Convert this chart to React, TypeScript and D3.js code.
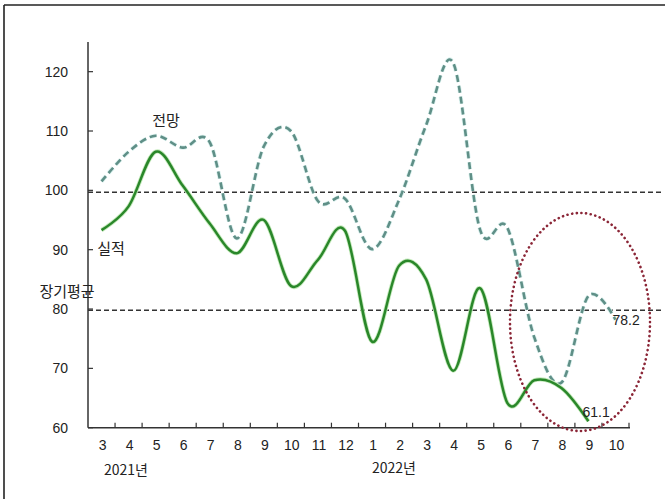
import React from "react";
import * as d3 from "d3";

// Month labels along the x axis (2021/3 .. 2022/10)
const months = ["3", "4", "5", "6", "7", "8", "9", "10", "11", "12", "1", "2", "3", "4", "5", "6", "7", "8", "9", "10"];
// Actual index (실적), through 2022/9
const actual = [93.3, 97.3, 106.5, 100.8, 94.4, 89.4, 95.0, 83.9, 88.3, 93.2, 74.5, 87.3, 85.0, 69.6, 83.5, 64.2, 68.0, 66.7, 61.1];
// Outlook index (전망), through 2022/10
const outlook = [101.5, 106.5, 109.2, 107.2, 108.1, 91.9, 107.4, 110.0, 98.2, 98.6, 90.1, 98.4, 111.0, 121.5, 93.3, 93.7, 75.2, 67.6, 82.2, 78.2];
// Reference levels
const baseLine = 99.7;
const longTermAvg = 79.8;
const yTicks = [60, 70, 80, 90, 100, 110, 120];

const W = 665;
const H = 499;
const left = 88;
const right = 629;
const top = 42;
const bottom = 427.7;

const numFont = "'Liberation Sans', Arial, sans-serif";
const krFont = "'Noto Sans CJK KR', 'Noto Sans', sans-serif";

export default function App() {
  const x = d3.scaleBand<number>().domain(d3.range(months.length)).range([left, right]).padding(0);
  const y = d3.scaleLinear().domain([60, 125]).range([bottom, top]);
  const cx = (i: number) => (x(i) as number) + x.bandwidth() / 2;

  const line = d3
    .line<number>()
    .x((_, i) => cx(i))
    .y((d) => y(d))
    .curve(d3.curveCatmullRom.alpha(0));

  const actualPath = line(actual) || "";
  const outlookPath = line(outlook) || "";

  const boundaries = d3.range(1, months.length + 1).map((i) => left + i * x.bandwidth());

  const lastA = actual.length - 1;
  const lastO = outlook.length - 1;

  return (
    <svg width={W} height={H} style={{ position: "absolute", left: 0, top: 0, background: "#fff" }}>
      {/* frame */}
      <line x1={4} y1={5} x2={W} y2={5} stroke="#222" strokeWidth={1.6} />
      <line x1={4} y1={5} x2={4} y2={H} stroke="#222" strokeWidth={1.6} />

      {/* reference dashed lines */}
      <line x1={left} x2={661} y1={y(baseLine)} y2={y(baseLine)} stroke="#333" strokeWidth={1.5} strokeDasharray="5 3" />
      <line x1={left} x2={663} y1={y(longTermAvg)} y2={y(longTermAvg)} stroke="#333" strokeWidth={1.5} strokeDasharray="5 3" />

      {/* axes */}
      <line x1={left} x2={left} y1={top} y2={bottom} stroke="#333" strokeWidth={1.5} />
      <line x1={left} x2={right + 1} y1={bottom} y2={bottom} stroke="#333" strokeWidth={1.5} />
      {yTicks.map((t) => (
        <g key={t}>
          <line x1={left} x2={left + 5} y1={y(t)} y2={y(t)} stroke="#333" strokeWidth={1.2} />
          <text x={68} y={y(t)} dy="0.35em" textAnchor="end" fontFamily={numFont} fontSize={14} fill="#222">
            {t}
          </text>
        </g>
      ))}
      {boundaries.map((bx, i) => (
        <line key={i} x1={bx} x2={bx} y1={bottom} y2={bottom - 5} stroke="#333" strokeWidth={1.2} />
      ))}
      {months.map((m, i) => (
        <text key={i} x={cx(i) + 1} y={445} dy="0.35em" textAnchor="middle" fontFamily={numFont} fontSize={14} fill="#222">
          {m}
        </text>
      ))}
      <text x={126} y={470} dy="0.35em" textAnchor="middle" fontFamily={krFont} fontSize={14} fill="#222">
        2021년
      </text>
      <text x={394} y={468} dy="0.35em" textAnchor="middle" fontFamily={krFont} fontSize={14} fill="#222">
        2022년
      </text>

      {/* outlook (dashed) */}
      <path d={outlookPath} fill="none" stroke="#dcf2ef" strokeWidth={4.2} strokeDasharray="7 4" />
      <path d={outlookPath} fill="none" stroke="#5f8f87" strokeWidth={2.6} strokeDasharray="7 4" />

      {/* actual (solid) */}
      <path d={actualPath} fill="none" stroke="#c6ebbd" strokeWidth={4.2} />
      <path d={actualPath} fill="none" stroke="#2a872a" strokeWidth={2.5} />

      {/* series labels */}
      <text x={166} y={121} dy="0.35em" textAnchor="middle" fontFamily={krFont} fontSize={15} fill="#222">
        전망
      </text>
      <text x={111} y={249} dy="0.35em" textAnchor="middle" fontFamily={krFont} fontSize={15} fill="#222">
        실적
      </text>
      <text x={67} y={292} dy="0.35em" textAnchor="middle" fontFamily={krFont} fontSize={15} fill="#222">
        장기평균
      </text>

      {/* end values */}
      <text x={cx(lastO) - 3} y={y(outlook[lastO])} dy="0.35em" fontFamily={numFont} fontSize={14} fill="#222">
        {outlook[lastO]}
      </text>
      <text x={cx(lastA) - 6} y={y(actual[lastA]) - 9} dy="0.35em" fontFamily={numFont} fontSize={14} fill="#222">
        {actual[lastA]}
      </text>

      {/* highlight ellipse */}
      <ellipse
        cx={580}
        cy={322}
        rx={70}
        ry={109}
        fill="none"
        stroke="#8b2637"
        strokeWidth={2.6}
        strokeDasharray="0.1 4.6"
        strokeLinecap="round"
      />
    </svg>
  );
}
